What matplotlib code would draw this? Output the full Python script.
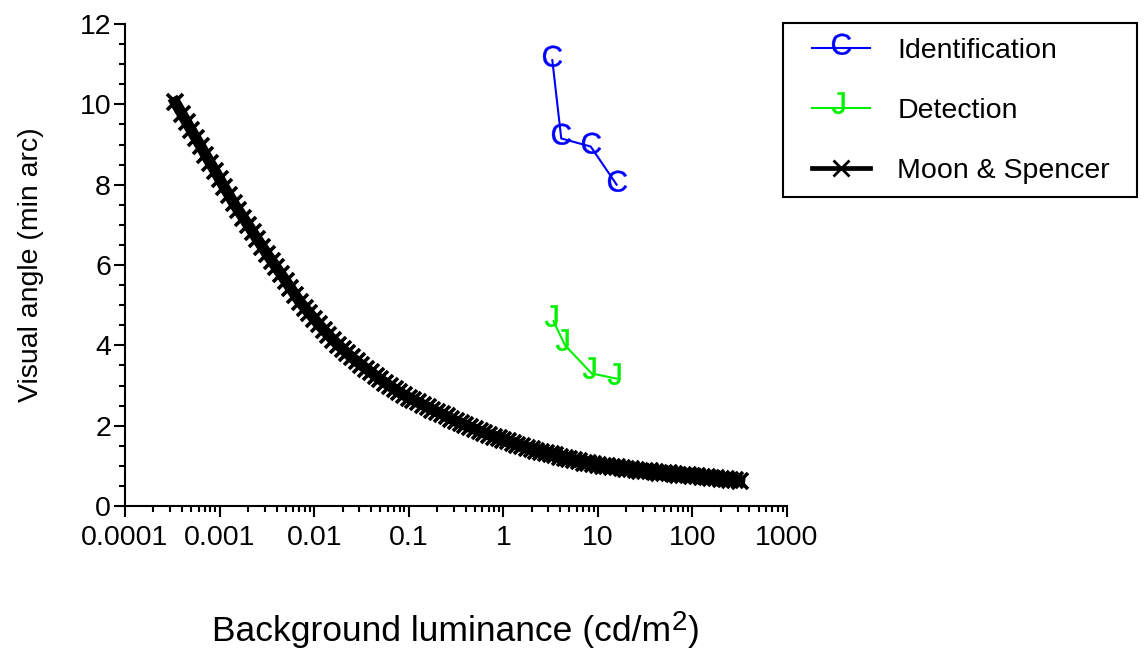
import numpy as np
import matplotlib
matplotlib.use('Agg')
import matplotlib.pyplot as plt
from matplotlib.textpath import TextPath
from matplotlib.font_manager import FontProperties
from matplotlib.path import Path
from matplotlib.patches import Rectangle
from matplotlib.ticker import FixedLocator, FixedFormatter, LogLocator, MultipleLocator, NullFormatter

# --- data ---
id_lum = [3.3, 4.1, 8.4, 15.8]
id_angle = [11.1, 9.15, 8.95, 8.0]

det_lum = [3.4, 4.5, 8.6, 15.8]
det_angle = [4.6, 4.0, 3.3, 3.17]

ms_lum = [0.00034, 0.000398, 0.000447, 0.000501, 0.000562, 0.000631, 0.000708, 0.000794, 0.000891,
          0.001, 0.00112, 0.00126, 0.00141, 0.00158, 0.00178, 0.002, 0.00224, 0.00251, 0.00282,
          0.00316, 0.00355, 0.00398, 0.00447, 0.00501, 0.00562, 0.00631, 0.00708, 0.00794, 0.00891,
          0.01, 0.0112, 0.0126, 0.0141, 0.0158, 0.0178, 0.02, 0.0224, 0.0251, 0.0282,
          0.0316, 0.0355, 0.0398, 0.0447, 0.0501, 0.0562, 0.0631, 0.0708, 0.0794, 0.0891,
          0.1, 0.112, 0.126, 0.141, 0.158, 0.178, 0.2, 0.224, 0.251, 0.282,
          0.316, 0.355, 0.398, 0.447, 0.501, 0.562, 0.631, 0.708, 0.794, 0.891,
          1.0, 1.12, 1.26, 1.41, 1.58, 1.78, 2.0, 2.24, 2.51, 2.82,
          3.16, 3.55, 3.98, 4.47, 5.01, 5.62, 6.31, 7.08, 7.94, 8.91,
          10, 11.2, 12.6, 14.1, 15.8, 17.8, 20, 22.4, 25.1, 28.2,
          31.6, 35.5, 39.8, 44.7, 50.1, 56.2, 63.1, 70.8, 79.4, 89.1,
          100, 112, 126, 141, 158, 178, 200, 224, 251, 282, 316]
ms_angle = [10.05, 9.77, 9.56, 9.36, 9.16, 8.96, 8.75, 8.55, 8.35,
            8.14, 7.94, 7.74, 7.54, 7.36, 7.18, 7.00, 6.82, 6.64, 6.46,
            6.28, 6.11, 5.94, 5.77, 5.60, 5.43, 5.25, 5.08, 4.94, 4.80,
            4.66, 4.52, 4.39, 4.26, 4.14, 4.02, 3.91, 3.80, 3.70, 3.60,
            3.51, 3.42, 3.33, 3.24, 3.15, 3.07, 2.99, 2.91, 2.83, 2.76,
            2.70, 2.64, 2.58, 2.52, 2.46, 2.40, 2.34, 2.29, 2.23, 2.17,
            2.11, 2.06, 2.01, 1.96, 1.91, 1.86, 1.82, 1.77, 1.73, 1.69,
            1.65, 1.61, 1.57, 1.53, 1.49, 1.45, 1.41, 1.38, 1.35, 1.32,
            1.29, 1.26, 1.23, 1.20, 1.17, 1.14, 1.11, 1.08, 1.06, 1.04,
            1.02, 1.00, 0.99, 0.97, 0.96, 0.94, 0.93, 0.91, 0.90, 0.88,
            0.87, 0.86, 0.84, 0.83, 0.82, 0.81, 0.80, 0.78, 0.77, 0.76,
            0.75, 0.74, 0.73, 0.71, 0.70, 0.69, 0.68, 0.67, 0.65, 0.64, 0.63]

x_ticks = [0.0001, 0.001, 0.01, 0.1, 1, 10, 100, 1000]
x_tick_labels = ['0.0001', '0.001', '0.01', '0.1', '1', '10', '100', '1000']
y_ticks = [0, 2, 4, 6, 8, 10, 12]

plt.rcParams['font.family'] = ['Liberation Sans', 'DejaVu Sans']
FS = 20.5
XL_FS = 25.5


def glyph_marker(ch, dx=0.0, dy=0.25, height_pt=13.7):
    """letter shaped marker; glyph centre sits at (-dx*w, +dy*h) from the data point"""
    tp = TextPath((0, 0), ch, size=1, prop=FontProperties(family='Liberation Sans'))
    ext = tp.get_extents()
    verts = tp.vertices.copy()
    codes = tp.codes.copy()
    real = codes != Path.CLOSEPOLY
    w, h = ext.width, ext.height
    verts[:, 0] -= (ext.x0 + ext.x1) / 2 + dx * w
    verts[:, 1] -= (ext.y0 + ext.y1) / 2 - dy * h
    verts[~real] = 0
    size = height_pt * 2 * np.abs(verts).max() / h
    return Path(verts, codes), size


c_mark, c_size = glyph_marker('C', dx=0.0, dy=0.2, height_pt=15.2)
j_mark, j_size = glyph_marker('J', dx=0.25, dy=0.25, height_pt=15.5)

fig = plt.figure(figsize=(11.44, 6.66), dpi=100)
ax = fig.add_axes([125/1144, 1-506/666, 662/1144, 482/666])

blue = '#0000ff'
green = '#00f000'
ax.plot(id_lum, id_angle, color=blue, lw=1.5, marker=c_mark, ms=c_size,
        mfc=blue, mec=blue, mew=0.3, label='Identification')
ax.plot(det_lum, det_angle, color=green, lw=1.5, marker=j_mark, ms=j_size,
        mfc=green, mec=green, mew=0.3, label='Detection')
ax.plot(ms_lum, ms_angle, color='k', lw=8, marker='x', ms=12, mew=2.6,
        label='Moon & Spencer')

ax.set_xscale('log')
ax.set_xlim(1e-4, 1e3)
ax.set_ylim(0, 12)
ax.xaxis.set_major_locator(FixedLocator(x_ticks))
ax.xaxis.set_major_formatter(FixedFormatter(x_tick_labels))
ax.xaxis.set_minor_locator(LogLocator(base=10, subs=np.arange(2, 10), numticks=20))
ax.xaxis.set_minor_formatter(NullFormatter())
ax.yaxis.set_major_locator(FixedLocator(y_ticks))
ax.yaxis.set_minor_locator(MultipleLocator(0.5))

for side in ['top', 'right']:
    ax.spines[side].set_visible(False)
for side in ['left', 'bottom']:
    ax.spines[side].set_linewidth(1.5)
ax.tick_params(which='major', direction='out', length=8, width=1.5, labelsize=FS)
ax.tick_params(which='minor', direction='out', length=4.3, width=1.5)
ax.tick_params(axis='x', which='major', pad=6)
ax.tick_params(axis='y', which='major', pad=2)

fig.text(31/1144, 1-265/666, 'Visual angle (min arc)', rotation=90,
         ha='center', va='center', fontsize=FS)

# x label with a raised "2"
t1 = fig.text(212/1144, 1-641/666, 'Background luminance (cd/m', ha='left',
              va='baseline', fontsize=XL_FS)
t2 = ax.annotate('2', xy=(1, 0), xycoords=t1, xytext=(0.3, 8.8), textcoords='offset points',
                 ha='left', va='bottom', fontsize=20, annotation_clip=False)
ax.annotate(')', xy=(1, 0), xycoords=t2, xytext=(0.3, -8.8), textcoords='offset points',
            ha='left', va='bottom', fontsize=XL_FS, annotation_clip=False)

leg = ax.legend(loc='upper left', bbox_to_anchor=(812/1144, 1-38/666),
                bbox_transform=fig.transFigure, frameon=False, borderpad=0,
                borderaxespad=0, numpoints=1, handlelength=2.04, handletextpad=0.95,
                labelspacing=1.2, fontsize=FS)
ms_handle = leg.legend_handles[2]
ms_handle.set_linewidth(3.4)
ms_handle.set_markersize(11)
ms_handle.set_markeredgewidth(2)
fig.patches.append(Rectangle((783/1144, 1-197/666), (1137-783)/1144, (197-23)/666,
                             transform=fig.transFigure, fill=False, edgecolor='k',
                             lw=1.5, figure=fig))

fig.savefig('out.png', dpi=100)
